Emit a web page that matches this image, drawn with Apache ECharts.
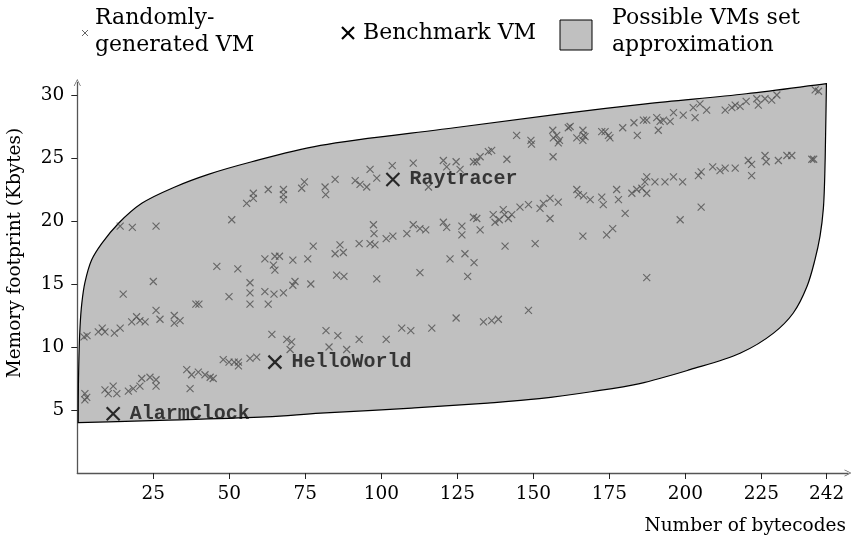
<!DOCTYPE html>
<html><head><meta charset="utf-8">
<script src="https://cdn.jsdelivr.net/npm/echarts@6/dist/echarts.min.js"></script>
<style>html,body{margin:0;padding:0;background:#fff}#c{width:851px;height:537px}</style>
</head><body><div id="c"></div>
<script>
// Randomly generated VMs: [bytecodes, memory Kbytes]
const randomVM = [
[14.1,19.6],[18.1,19.5],[25.9,19.6],[50.8,20.1],[55.7,21.4],[57.9,21.8],[57.9,22.2],
[45.9,16.4],[52.8,16.2],[25.0,15.2],[15.1,14.2],[56.8,15.1],[56.8,14.3],[56.8,13.4],[49.9,14.0],
[2.2,10.8],[3.2,10.9],[6.9,11.2],[8.2,11.5],[9.1,11.2],[12.2,11.1],[14.1,11.5],[17.9,12.0],[19.5,12.4],[20.6,12.1],[22.3,12.0],[25.9,12.9],[27.2,12.2],[31.9,12.5],[31.9,11.9],[33.8,12.1],[39.0,13.4],[40.0,13.4],
[2.5,6.3],[3.1,6.0],[2.5,5.8],[9.1,6.6],[10.2,6.3],[11.8,6.9],[13.0,6.3],[16.8,6.5],[18.4,6.7],[20.6,6.9],[21.2,7.5],[23.9,7.6],[25.9,7.4],[25.9,6.9],[36.0,8.2],[37.6,7.8],[39.8,8.0],[42.0,7.8],[43.7,7.6],[44.7,7.5],[37.1,6.7],[48.0,9.0],[49.9,8.8],[51.6,8.8],[53.0,8.8],[53.0,8.5],[56.8,9.1],[59.0,9.2],
[62.8,22.5],[67.8,22.5],[67.8,22.1],[67.8,21.7],[73.8,22.6],[74.7,23.1],[81.5,22.7],[81.7,22.1],[84.8,23.3],[91.4,23.2],[93.0,22.9],[95.2,22.7],[96.3,24.1],[98.5,23.4],[103.6,24.4],[110.5,24.6],[115.5,22.7],[120.4,24.8],[121.5,24.3],
[61.7,17.0],[65.0,17.2],[66.5,17.2],[64.5,16.5],[65.0,16.1],[70.9,16.9],[75.8,17.0],[77.6,18.0],[84.8,17.4],[86.4,18.1],[87.5,17.5],[92.7,18.2],[96.3,18.2],[97.4,19.7],[97.6,19.0],[97.9,18.1],[101.6,18.6],[103.8,18.8],[108.4,19.0],[110.5,19.7],[112.7,19.4],[114.6,19.3],[120.4,19.9],[121.5,19.5],[122.6,17.0],
[61.7,14.4],[64.7,14.2],[67.8,14.3],[62.8,13.4],[70.9,14.9],[71.6,15.2],[76.8,15.0],[85.3,15.7],[87.7,15.6],[98.5,15.4],[112.7,15.9],
[64.0,11.0],[68.9,10.6],[70.5,10.4],[70.0,9.8],[81.8,11.3],[85.7,10.9],[82.8,10.0],[88.6,9.8],[92.7,10.6],[101.6,10.6],[106.7,11.5],[109.7,11.3],[116.6,11.5],
[124.6,24.7],[125.9,24.1],[130.3,24.7],[131.4,24.7],[132.5,25.1],[135.2,25.5],[136.3,25.6],[141.3,24.9],[144.5,26.8],[149.2,26.4],[149.4,26.1],[156.4,27.2],[156.6,26.6],[157.7,26.8],[158.6,26.4],[158.2,26.2],[156.5,25.1],[161.5,27.4],[162.1,27.5],[164.3,26.6],[166.3,27.2],[166.5,26.8],[167.0,26.7],[166.3,26.4],[172.5,27.1],[173.6,27.1],[174.7,26.8],[175.2,26.6],[179.4,27.4],[183.1,27.8],[184.2,26.8],
[126.5,19.6],[126.5,18.9],[130.3,20.3],[131.4,20.2],[132.5,19.3],[136.8,20.5],[137.4,19.9],[138.8,20.1],[140.1,20.9],[140.5,20.5],[141.8,20.2],[142.9,20.5],[145.6,21.1],[148.4,21.3],[152.2,21.0],[153.3,21.4],[155.5,21.8],[158.2,21.5],[155.5,20.2],[164.3,22.5],[164.8,22.1],[166.5,22.0],[168.7,21.7],[172.5,21.9],[173.0,21.3],[177.4,22.5],[178.0,21.7],[180.2,20.6],[182.4,22.2],[184.0,22.5],[185.7,22.6],
[127.5,17.4],[130.5,16.7],[128.4,15.6],[140.7,18.0],[150.6,18.2],[166.3,18.8],[174.1,18.9],[176.1,19.4],
[124.6,12.3],[133.6,12.0],[136.3,12.1],[138.5,12.2],[148.4,12.9],
[186.2,28.0],[187.3,28.0],[190.6,28.2],[191.7,27.9],[192.8,28.0],[191.1,27.2],[195.0,27.9],[196.1,28.6],[199.3,28.4],[202.6,29.0],[203.2,28.2],[204.8,29.3],[207.0,28.8],[213.1,28.8],[215.3,29.0],[216.4,29.2],[218.0,29.1],[220.0,29.5],[223.5,29.7],[224.0,29.2],[226.2,29.7],[228.4,29.6],[230.1,30.0],[242.7,30.4],[243.8,30.3],
[186.7,23.1],[187.3,23.5],[190.0,23.1],[193.3,23.1],[196.1,23.5],[199.1,23.1],[204.3,23.6],[205.2,23.9],[209.0,24.3],[211.4,24.0],[213.1,24.2],[216.4,24.2],[220.7,24.8],[221.8,24.5],[221.8,23.6],[226.2,25.2],[226.6,24.7],[230.6,24.8],[233.4,25.2],[235.0,25.2],[241.6,24.9],[242.2,24.9],
[187.3,22.2],[198.3,20.1],[205.2,21.1],[187.3,15.5]
];

// Benchmark VMs
const benchNames = ['Raytracer', 'HelloWorld', 'AlarmClock'];
const benchX = [103.8, 65.0, 11.8];
const benchY = [23.3, 8.8, 4.7];

// "Possible VMs set approximation" outline, both chains run bottom-left -> top-right
const upperX = [0.3, 0.4, 0.9, 1.5, 2.5, 4.7, 8.0, 13.5, 21.2, 32.1, 43.1, 57.4, 80, 124, 159, 187, 220, 246.4];
const upperY = [4.0, 7.5, 11.6, 13.5, 15.1, 16.9, 18.2, 19.8, 21.4, 22.7, 23.7, 24.7, 26.0, 27.4, 28.5, 29.3, 30.1, 30.9];
const lowerX = [0.3, 30, 62, 80, 110, 135, 152, 169, 185, 201.5, 218, 229, 235.5, 240, 242.6, 244.3, 245.4, 246.0, 246.4];
const lowerY = [4.0, 4.2, 4.45, 4.75, 5.15, 5.55, 5.9, 6.45, 7.1, 8.2, 9.5, 11.1, 12.7, 14.8, 16.9, 18.8, 21.0, 25.0, 30.9];

// Axis ticks
const xTickValues = [25, 50, 75, 100, 125, 150, 175, 200, 225, 246.5];
const xTickLabels = ['25', '50', '75', '100', '125', '150', '175', '200', '225', '242'];
const yTickValues = [5, 10, 15, 20, 25, 30];
const yTickLabels = ['5', '10', '15', '20', '25', '30'];

const SERIF = '"DejaVu Serif", "Liberation Serif", serif';
const MONO = '"Liberation Mono", "DejaVu Sans Mono", monospace';
const CROSS = 'path://M0,0L10,10M10,0L0,10';
const ARROW = 'path://M0,10L5,0L10,10L9,10L5,2L1,10Z';

// centripetal Catmull-Rom through the given screen points, as cubic Bezier segments
function smoothPath(pts) {
  const n = pts.length;
  const P = i => {
    if (i < 0) return [2 * pts[0][0] - pts[1][0], 2 * pts[0][1] - pts[1][1]];
    if (i >= n) return [2 * pts[n - 1][0] - pts[n - 2][0], 2 * pts[n - 1][1] - pts[n - 2][1]];
    return pts[i];
  };
  const dist = (a, b) => Math.max(1e-6, Math.hypot(a[0] - b[0], a[1] - b[1]));
  let d = '';
  for (let i = 0; i < n - 1; i++) {
    const p0 = P(i - 1), p1 = P(i), p2 = P(i + 1), p3 = P(i + 2);
    const d1 = dist(p0, p1), d2 = dist(p1, p2), d3 = dist(p2, p3);
    const a1 = Math.sqrt(d1), a2 = Math.sqrt(d2), a3 = Math.sqrt(d3);
    const c1 = [0, 1].map(k => (d1 * p2[k] - d2 * p0[k] + (2 * d1 + 3 * a1 * a2 + d2) * p1[k]) / (3 * a1 * (a1 + a2)));
    const c2 = [0, 1].map(k => (d3 * p1[k] - d2 * p3[k] + (2 * d3 + 3 * a3 * a2 + d2) * p2[k]) / (3 * a3 * (a3 + a2)));
    d += 'C' + c1[0] + ',' + c1[1] + ' ' + c2[0] + ',' + c2[1] + ' ' + p2[0] + ',' + p2[1];
  }
  return d;
}

function crossLines(cx, cy, h, color, w) {
  return [
    { type: 'line', shape: { x1: cx - h, y1: cy - h, x2: cx + h, y2: cy + h }, style: { stroke: color, lineWidth: w } },
    { type: 'line', shape: { x1: cx + h, y1: cy - h, x2: cx - h, y2: cy + h }, style: { stroke: color, lineWidth: w } }
  ];
}

const chart = echarts.init(document.getElementById('c'));
const axisColor = '#555';
chart.setOption({
  animation: false,
  backgroundColor: '#fff',
  grid: { left: 77.3, right: 3, top: 82.4, bottom: 64 },
  xAxis: {
    type: 'value', min: 0, max: 253.5,
    axisLine: { show: true, symbol: ['none', ARROW], symbolSize: [8, 7], lineStyle: { color: axisColor, width: 1.3 } },
    axisTick: { show: true, customValues: xTickValues, length: 6, lineStyle: { color: '#222', width: 1 } },
    axisLabel: {
      customValues: xTickValues, margin: 12, color: '#000',
      fontFamily: SERIF, fontSize: 18.5,
      formatter: v => xTickLabels[xTickValues.indexOf(v)]
    },
    splitLine: { show: false }
  },
  yAxis: {
    type: 'value', min: 0, max: 31,
    axisLine: { show: true, symbol: ['none', ARROW], symbolSize: [8, 7], lineStyle: { color: axisColor, width: 1.3 } },
    axisTick: { show: true, customValues: yTickValues, length: 6, lineStyle: { color: '#222', width: 1 } },
    axisLabel: {
      customValues: yTickValues, margin: 13, color: '#000',
      fontFamily: SERIF, fontSize: 18.5,
      formatter: v => yTickLabels[yTickValues.indexOf(v)]
    },
    splitLine: { show: false }
  },
  series: [
    {
      type: 'custom', name: 'Possible VMs set approximation', silent: true, z: 1,
      data: [0],
      renderItem: function (params, api) {
        const up = upperX.map((x, i) => api.coord([x, upperY[i]]));
        const lo = lowerX.map((x, i) => api.coord([x, lowerY[i]])).reverse();
        const d = 'M' + up[0][0] + ',' + up[0][1] + smoothPath(up) + smoothPath(lo) + 'Z';
        return { type: 'path', shape: { pathData: d }, style: { fill: '#c0c0c0', stroke: '#000', lineWidth: 1.2 } };
      }
    },
    {
      type: 'scatter', name: 'Randomly-generated VM', silent: true, z: 3,
      symbol: CROSS, symbolSize: 7,
      itemStyle: { color: 'rgba(0,0,0,0)', borderColor: '#505050', borderWidth: 1.15 },
      data: randomVM
    },
    {
      type: 'scatter', name: 'Benchmark VM', silent: true, z: 4,
      symbol: CROSS, symbolSize: 13,
      itemStyle: { color: 'rgba(0,0,0,0)', borderColor: '#000', borderWidth: 2.2 },
      label: {
        show: true, position: 'right', distance: 9,
        formatter: p => p.name,
        fontFamily: MONO, fontSize: 20, fontWeight: 'bold', color: '#111'
      },
      data: benchNames.map((n, i) => ({ name: n, value: [benchX[i], benchY[i]] }))
    }
  ],
  graphic: [
    ...crossLines(85, 33, 3, '#666', 1),
    { type: 'text', x: 95, y: 5, style: { text: 'Randomly-\ngenerated VM', font: '22px ' + SERIF, fill: '#000', lineHeight: 27 } },
    ...crossLines(348, 33, 6, '#000', 2.2),
    { type: 'text', x: 363, y: 33, style: { text: 'Benchmark VM', font: '22px ' + SERIF, fill: '#000', textVerticalAlign: 'middle' } },
    { type: 'rect', shape: { x: 560, y: 20, width: 32, height: 30 }, style: { fill: '#c0c0c0', stroke: '#000', lineWidth: 1 } },
    { type: 'text', x: 612, y: 5, style: { text: 'Possible VMs set\napproximation', font: '22px ' + SERIF, fill: '#000', lineHeight: 27 } },
    { type: 'text', x: 15, y: 253, rotation: Math.PI / 2, style: { text: 'Memory footprint (Kbytes)', font: '18.5px ' + SERIF, fill: '#000', textAlign: 'center', textVerticalAlign: 'middle' } },
    { type: 'text', x: 846, y: 526, style: { text: 'Number of bytecodes', font: '18.5px ' + SERIF, fill: '#000', textAlign: 'right', textVerticalAlign: 'middle' } }
  ]
});
</script>
</body></html>
